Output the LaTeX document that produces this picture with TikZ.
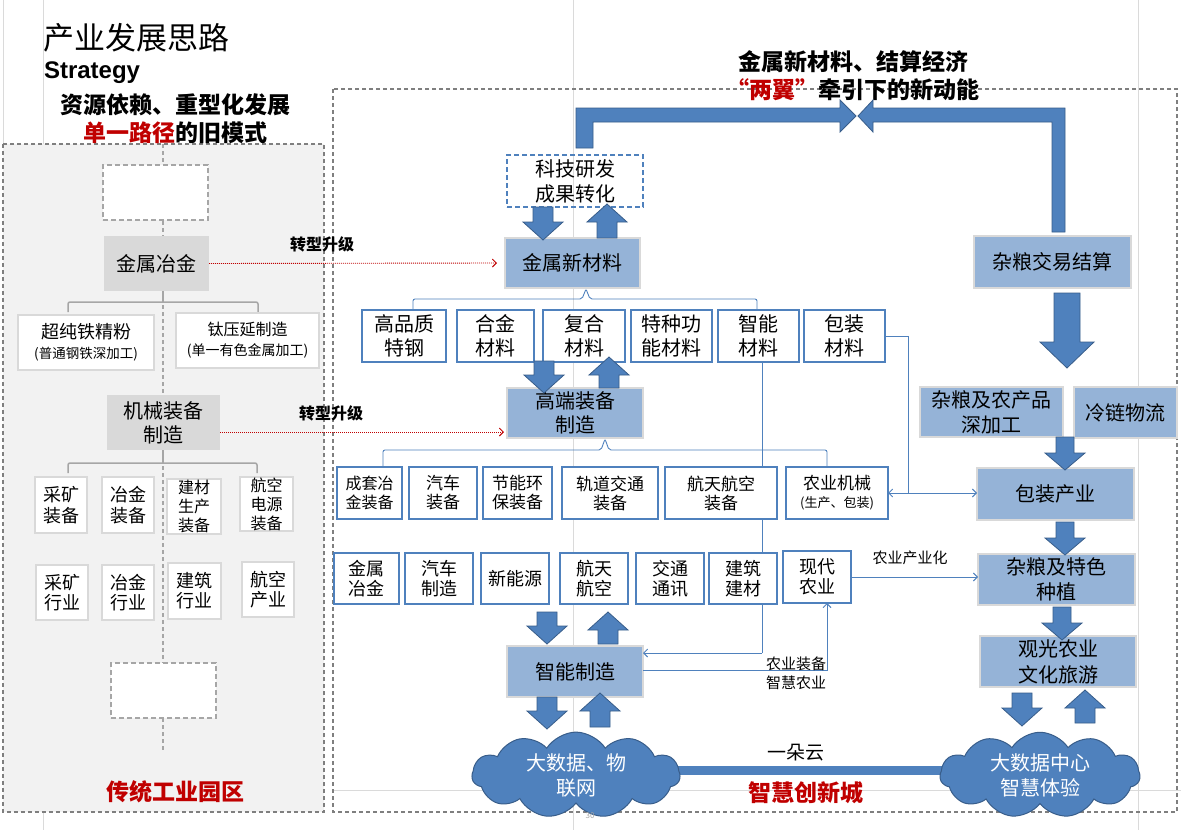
\documentclass[tikz,border=0pt]{standalone}
\usepackage{fontspec}
\setmainfont{Noto Sans CJK SC}
\newfontfamily\latinfont{Liberation Sans}
\usetikzlibrary{shapes.symbols,arrows.meta}
\pgfdeclarelayer{bg}
\pgfsetlayers{bg,main}
\definecolor{dblue}{HTML}{4F81BD}
\definecolor{dbord}{HTML}{385D8A}
\definecolor{lblue}{HTML}{95B3D7}
\definecolor{lgray}{HTML}{D9D9D9}
\definecolor{pgray}{HTML}{F2F2F2}
\definecolor{mgray}{HTML}{7F7F7F}
\definecolor{bgray}{HTML}{A6A6A6}
\definecolor{dred}{HTML}{C00000}
\definecolor{guide}{HTML}{DADADA}
\newcommand{\fs}[2]{\fontsize{#1}{#2}\selectfont}
\newcommand{\blkdown}[6]{\filldraw[blk] ({#1-#4},#2) -- ({#1+#4},#2) -- ({#1+#4},{#3-#6}) -- ({#1+#5},{#3-#6}) -- (#1,#3) -- ({#1-#5},{#3-#6}) -- ({#1-#4},{#3-#6}) -- cycle;}
\newcommand{\blkup}[6]{\filldraw[blk] ({#1-#4},#2) -- ({#1+#4},#2) -- ({#1+#4},{#3+#6}) -- ({#1+#5},{#3+#6}) -- (#1,#3) -- ({#1-#5},{#3+#6}) -- ({#1-#4},{#3+#6}) -- cycle;}
\begin{document}
\begin{tikzpicture}[x=1pt,y=-1pt,
  every node/.style={inner sep=0pt, outer sep=0pt, align=center, text=black},
  sz/.style 2 args={minimum width=#1pt, minimum height=#2pt},
  wbox/.style={draw=dblue, line width=1.6pt, fill=white},
  lbbox/.style={draw=lgray, line width=2pt, fill=lblue},
  gbox/.style={fill=lgray},
  lwbox/.style={draw=lgray, line width=2pt, fill=white},
  dwbox/.style={draw=bgray, line width=1.5pt, dash pattern=on 5pt off 3pt, fill=white},
  tl/.style={draw=dblue, line width=0.9pt},
  barb/.style={-{Straight Barb[length=4pt,width=8pt]}},
  dbarb/.style={{Straight Barb[length=4pt,width=8pt]}-{Straight Barb[length=4pt,width=8pt]}},
  blk/.style={fill=dblue, draw=dbord, line width=0.8pt},
  brk/.style={draw=bgray, line width=1.5pt, rounded corners=2pt},
  bbrk/.style={draw=dblue, line width=0.9pt, rounded corners=2pt},
  redarr/.style={draw=dred, line width=0.9pt, dash pattern=on 1pt off 1pt, -{Straight Barb[length=4pt,width=8pt]}},
  cloudn/.style={cloud, cloud puffs=11, cloud puff arc=115, aspect=2.8, fill=dblue, draw=dbord, line width=1pt, text=white},
]
\useasboundingbox (0,0) rectangle (1181,830);
\begin{pgfonlayer}{bg}
\fill[white] (0,0) rectangle (1181,830);
\draw[guide, line width=0.7pt] (3,0) -- (3,144) (43,0) -- (43,144) (43,812) -- (43,830)
  (573,0) -- (573,830) (1138,0) -- (1138,830) (333,790) -- (1181,790);
\draw[mgray, line width=1.3pt, dash pattern=on 4pt off 3pt, fill=pgray] (3,144) rectangle (324,812);
\draw[mgray, line width=1.3pt, dash pattern=on 4pt off 3pt] (333,89) rectangle (1177,812);
\draw[bgray, line width=1.5pt, dash pattern=on 4pt off 3pt] (163,144) -- (163,750);
\end{pgfonlayer}

% ---------- titles ----------
\node[anchor=west, font=\fs{31}{31}] (title) at (43,38) {产业发展思路};
\node[anchor=base west, font=\latinfont\bfseries\fs{24}{24}] (strat) at (44,78) {Strategy};
\node[font=\bfseries\fs{23}{28}] (lhead) at (175,119) {资源依赖、重型化发展\\{\color{dred}单一路径}的旧模式};
\node[font=\bfseries\fs{23}{28}] (rhead) at (853,76) {金属新材料、结算经济\\{\color{dred}“两翼”}牵引下的新动能};

% ---------- left panel ----------
\node[dwbox, sz={105}{55}] (ld1) at (155.5,192.5) {};
\node[gbox, sz={105}{55}, font=\fs{20}{24}] (jsyj) at (156.5,263.5) {金属冶金};
\draw[brk] (68,312) -- (68,302) -- (258,302) -- (258,312);
\draw[brk] (163,291) -- (163,302);
\node[lwbox, sz={136}{55}, font=\fs{18}{21}] (ccft) at (86,342.5) {超纯铁精粉\\[-1pt]{\fs{13.5}{16}(普通钢铁深加工)}};
\node[lwbox, sz={143}{55}, font=\fs{16}{21}] (tyyz) at (247.5,340.5) {钛压延制造\\[-1pt]{\fs{14}{16}(单一有色金属加工)}};
\node[gbox, sz={113}{55}, font=\fs{20}{24}] (jxzb) at (163.5,422.5) {机械装备\\制造};
\draw[brk] (68,473) -- (68,463) -- (257,463) -- (257,473);
\draw[brk] (163,450) -- (163,463);
\node[lwbox, sz={52}{56}, font=\fs{18}{21}] (ckzb) at (61,505) {采矿\\装备};
\node[lwbox, sz={52}{56}, font=\fs{18}{21}] (yjzb) at (128,505) {冶金\\装备};
\node[lwbox, sz={54}{55}, font=\fs{16}{19}] (jczb) at (194,506.5) {建材\\生产\\装备};
\node[lwbox, sz={53}{54}, font=\fs{16}{19}] (hkzb) at (266.5,504) {航空\\电源\\装备};
\node[lwbox, sz={52}{55}, font=\fs{18}{20}] (ckhy) at (62,592.5) {采矿\\行业};
\node[lwbox, sz={52}{55}, font=\fs{18}{20}] (yjhy) at (128,592.5) {冶金\\行业};
\node[lwbox, sz={53}{56}, font=\fs{18}{20}] (jzhy) at (194.5,591) {建筑\\行业};
\node[lwbox, sz={52}{55}, font=\fs{18}{20}] (hkcy) at (268,589.5) {航空\\产业};
\node[dwbox, sz={105}{55}] (ld2) at (163.5,690.5) {};
\node[font=\bfseries\fs{23}{23}, text=dred] (ctgy) at (175,792) {传统工业园区};

% ---------- right panel: left column ----------
\node[draw=dblue, line width=1.3pt, dash pattern=on 5pt off 3pt, sz={136}{52}, font=\fs{20}{25}] (kj) at (575,181) {科技研发\\成果转化};
\node[lbbox, sz={135}{50}, font=\fs{20}{24}] (jsxcl) at (572.5,263) {金属新材料};
\node[wbox, sz={84}{52}, font=\fs{20}{24}] (gpz) at (404,336) {高品质\\特钢};
\node[wbox, sz={77}{52}, font=\fs{20}{24}] (hjcl) at (495.5,336) {合金\\材料};
\node[wbox, sz={82}{52}, font=\fs{20}{24}] (fhcl) at (584,336) {复合\\材料};
\node[wbox, sz={81}{52}, font=\fs{20}{24}] (tzgn) at (671.5,336) {特种功\\能材料};
\node[wbox, sz={81}{52}, font=\fs{20}{24}] (zncl) at (758.5,336) {智能\\材料};
\node[wbox, sz={81}{52}, font=\fs{20}{24}] (bzcl) at (844.5,336) {包装\\材料};
\draw[bbrk] (413,310) -- (413,299) -- (582,299) -- (586,289) -- (590,299) -- (757,299) -- (757,310);
\node[lbbox, sz={136}{50}, font=\fs{20}{24}] (gdzb) at (575,413) {高端装备\\制造};
\draw[bbrk] (383,467) -- (383,450) -- (601,450) -- (605,439) -- (609,450) -- (827,450) -- (827,467);

% line from 智能材料 behind boxes
\begin{pgfonlayer}{bg}
\draw[tl] ([xshift=3.5pt]zncl.south) -- (762,653);
\end{pgfonlayer}

\node[wbox, sz={65}{52}, font=\fs{16}{19}] (ctyj) at (369.5,493) {成套冶\\金装备};
\node[wbox, sz={68}{52}, font=\fs{17}{19}] (qczb) at (443,493) {汽车\\装备};
\node[wbox, sz={69}{52}, font=\fs{17}{19}] (jnhb) at (517.5,493) {节能环\\保装备};
\node[wbox, sz={96}{52}, font=\fs{17}{19}] (gdjt) at (610,493) {轨道交通\\装备};
\node[wbox, sz={112}{52}, font=\fs{17}{19}] (htzb) at (721,493) {航天航空\\装备};
\node[wbox, sz={102}{52}, font=\fs{17}{20}] (nyjx) at (837,493) {农业机械\\[-2pt]{\fs{13}{15}(生产、包装)}};

\node[wbox, sz={65}{51}, font=\fs{18}{20}] (jsyj2) at (366.5,578.5) {金属\\冶金};
\node[wbox, sz={68}{51}, font=\fs{18}{20}] (qczz) at (439,578.5) {汽车\\制造};
\node[wbox, sz={68}{51}, font=\fs{18}{20}] (xny) at (515,578.5) {新能源};
\node[wbox, sz={68}{51}, font=\fs{18}{20}] (htht) at (594,578.5) {航天\\航空};
\node[wbox, sz={68}{51}, font=\fs{18}{20}] (jttx) at (670,578.5) {交通\\通讯};
\node[wbox, sz={68}{51}, font=\fs{18}{20}] (jzjc) at (743,578.5) {建筑\\建材};
\node[wbox, sz={68}{52}, font=\fs{18}{20}] (xdny) at (817,577) {现代\\农业};

\node[lbbox, sz={136}{51}, font=\fs{20}{24}] (znzz) at (575,671.5) {智能制造};

% ---------- right column ----------
\node[lbbox, sz={157}{52}, font=\fs{20}{24}] (zljy) at (1052.5,262) {杂粮交易结算};
\node[lbbox, sz={143}{50}, font=\fs{20}{25}] (zlsjg) at (991.5,412) {杂粮及农产品\\深加工};
\node[lbbox, sz={103}{51}, font=\fs{20}{24}] (lllw) at (1125.5,412.5) {冷链物流};
\node[lbbox, sz={157}{52}, font=\fs{20}{24}] (bzcy) at (1055.5,494) {包装产业};
\node[lbbox, sz={157}{51}, font=\fs{20}{25}] (zlzz) at (1056.5,579.5) {杂粮及特色\\种植};
\node[lbbox, sz={156}{51}, font=\fs{20}{26}] (gglv) at (1058,661.5) {观光农业\\文化旅游};

% ---------- clouds ----------
\draw[dblue, line width=9pt] (660,770) -- (960,770);
\node[cloudn, sz={208}{74}, font=\fs{20}{25}] (lcloud) at (576,775) {大数据、物\\联网};
\node[cloudn, sz={200}{74}, font=\fs{20}{25}] (rcloud) at (1040,775) {大数据中心\\智慧体验};
\node[font=\fs{19}{19}] (yd) at (796,753) {一朵云};
\node[font=\bfseries\fs{23}{23}, text=dred] (zhcx) at (806,793) {智慧创新城};

% ---------- big connectors ----------
\filldraw[blk] ([xshift=1pt]kj.north) ++(0,-7) -- (576,108) -- (840,108) -- (840,100) -- (856,116) -- (840,132) -- (840,122) -- (593,122) -- (593,148) -- cycle;
\filldraw[blk] (1052,232) -- (1052,122) -- (873,122) -- (873,132) -- (858,116) -- (873,100) -- (873,108) -- (1065,108) -- (1065,232) -- cycle;

% ---------- block arrows ----------
\blkdown{543}{207}{240}{10}{20}{18}
\blkup{607}{238}{204}{10}{20}{18}
\blkdown{544}{361}{393}{10}{20}{18}
\blkup{609}{388}{357}{10}{20}{18}
\blkdown{547}{612}{644}{10}{20}{18}
\blkup{608}{644}{612}{10}{20}{18}
\blkdown{547}{697}{729}{10}{20}{18}
\blkup{600}{727}{693}{10}{20}{18}
\blkdown{1067}{293}{368}{13}{27}{26}
\blkdown{1065}{437}{470}{9}{20}{17}
\blkdown{1065}{522}{555}{9}{20}{17}
\blkdown{1062}{607}{640}{9}{20}{17}
\blkdown{1022}{693}{726}{10}{20}{18}
\blkup{1085}{723}{690}{10}{20}{18}

% ---------- thin connectors ----------
\draw[tl, barb] (762,653) -- ([yshift=18.5pt]znzz.east);
\draw[tl, barb] ([yshift=1.5pt]znzz.east) -| ([xshift=10pt]xdny.south);
\node[font=\fs{15}{19}] (nyzb) at (796,673) {农业装备\\智慧农业};
\coordinate (bzj) at (908,493);
\draw[tl] (bzcl.east) -| (bzj);
\draw[tl, dbarb] (nyjx.east) -- (nyjx.east -| bzcy.west);
\draw[tl, barb] (xdny.east) -- (xdny.east -| zlzz.west);
\node[font=\fs{15}{15}] (nycyh) at (910,558) {农业产业化};

% ---------- upgrade arrows ----------
\draw[redarr] (jsyj.east) -- ([xshift=-8pt]jsxcl.west);
\draw[redarr] ([yshift=-9.5pt]jxzb.east) -- ([xshift=-3pt,yshift=-19pt]gdzb.west);
\node[font=\bfseries\fs{16}{16}] (zx1) at (322,244) {转型升级};
\node[font=\bfseries\fs{16}{16}] (zx2) at (331,413) {转型升级};

\node[font=\fs{8}{8}, text=bgray] (pg) at (590,816) {30};
\end{tikzpicture}
\end{document}
